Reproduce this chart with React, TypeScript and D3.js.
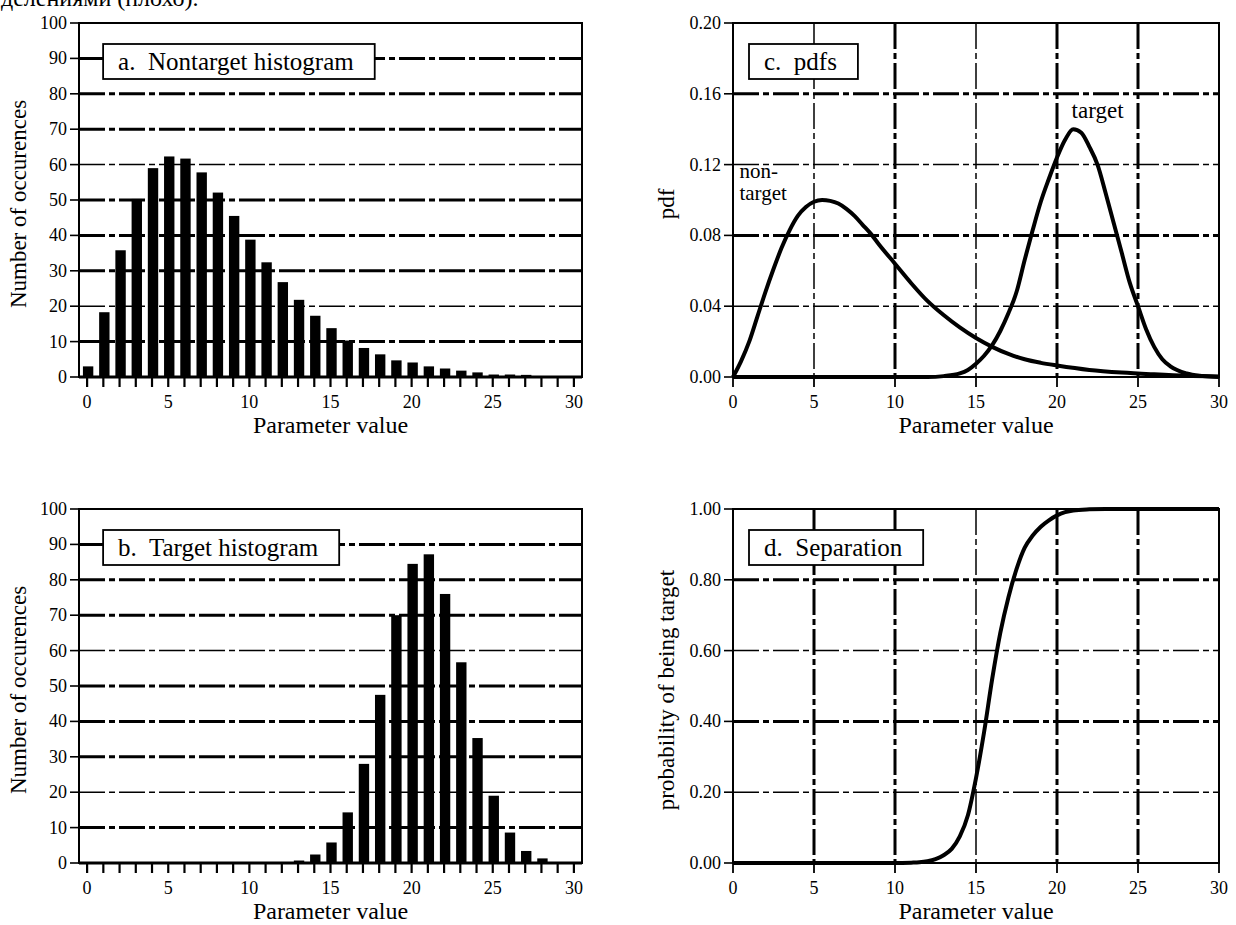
import React, { useEffect, useRef } from 'react';
import * as d3 from 'd3';

const FONT = "'Liberation Serif', 'DejaVu Serif', serif";

// cut off caption line from the page above the figure
const topCaption = 'делениями (плохо).';

// histogram bins (parameter value)
const bins = [0, 1, 2, 3, 4, 5, 6, 7, 8, 9, 10, 11, 12, 13, 14, 15, 16, 17, 18, 19, 20, 21, 22, 23, 24, 25, 26, 27, 28, 29, 30];

// a. Nontarget histogram counts
const nontargetCounts = [3, 18.3, 35.8, 50.3, 59, 62.3, 61.7, 57.8, 52.1, 45.5, 38.8, 32.4, 26.8, 21.8, 17.3, 13.8, 10.3, 8.2, 6.4, 4.7, 4.1, 3, 2.4, 1.8, 1.3, 0.7, 0.7, 0.6, 0, 0, 0];

// b. Target histogram counts
const targetCounts = [0, 0, 0, 0, 0, 0, 0, 0, 0, 0, 0, 0, 0, 0.7, 2.4, 5.8, 14.3, 28, 47.5, 70, 84.5, 87.2, 76, 56.7, 35.3, 19, 8.6, 3.4, 1.3, 0, 0];

// c. pdfs
const nontargetPdfX = [0, 0.5, 1, 1.5, 2, 2.5, 3, 3.5, 4, 4.5, 5, 5.5, 6, 6.5, 7, 7.5, 8, 8.5, 9, 10, 11, 12, 13, 14, 15, 16, 17, 18, 19, 20, 22, 24, 26, 28, 30];
const nontargetPdf = [0, 0.009, 0.02, 0.034, 0.048, 0.061, 0.073, 0.083, 0.091, 0.096, 0.099, 0.1, 0.0995, 0.098, 0.095, 0.091, 0.086, 0.081, 0.075, 0.064, 0.053, 0.043, 0.035, 0.028, 0.022, 0.017, 0.013, 0.01, 0.008, 0.0065, 0.004, 0.0025, 0.0015, 0.0007, 0.0003];

const targetPdfX = [0, 12, 13, 14, 14.5, 15, 15.5, 16, 16.5, 17, 17.5, 18, 18.5, 19, 19.5, 20, 20.5, 21, 21.5, 22, 22.5, 23, 23.5, 24, 24.5, 25, 25.5, 26, 26.5, 27, 28, 29, 30];
const targetPdf = [0, 0, 0.0005, 0.002, 0.004, 0.0075, 0.012, 0.018, 0.026, 0.036, 0.048, 0.066, 0.083, 0.099, 0.112, 0.124, 0.134, 0.14, 0.138, 0.13, 0.12, 0.104, 0.087, 0.07, 0.053, 0.04, 0.027, 0.017, 0.01, 0.006, 0.002, 0.0006, 0];

// d. Separation
const sepX = [0, 10, 11, 11.5, 12, 12.5, 13, 13.5, 14, 14.5, 15, 15.5, 16, 16.5, 17, 17.5, 18, 18.5, 19, 19.5, 20, 20.5, 21, 22, 23, 30];
const sepProb = [0, 0, 0.001, 0.002, 0.005, 0.011, 0.022, 0.04, 0.075, 0.135, 0.24, 0.37, 0.52, 0.65, 0.75, 0.83, 0.89, 0.925, 0.95, 0.968, 0.982, 0.991, 0.996, 0.999, 1, 1];

// tick values
const countTicks = [0, 10, 20, 30, 40, 50, 60, 70, 80, 90, 100];
const pdfTicks = [0, 0.04, 0.08, 0.12, 0.16, 0.2];
const probTicks = [0, 0.2, 0.4, 0.6, 0.8, 1];
const paramLabels = [0, 5, 10, 15, 20, 25, 30];
const paramGrid = [5, 10, 15, 20, 25];

const DASH = '26,4,6,4';

type Panel = {
  kind: 'hist' | 'curve';
  label: string;
  yTitle: string;
  yTitleX: number;
  left: number;
  right: number;
  top: number;
  bottom: number;
  xDomain: [number, number];
  yTicks: number[];
  fmt: (v: number) => string;
  heavyH: number[];
  heavyV: number[];
  counts?: number[];
  curves?: { xs: number[]; ys: number[] }[];
};

const App: React.FC = () => {
  const svgRef = useRef<SVGSVGElement | null>(null);

  useEffect(() => {
    if (!svgRef.current) return;
    const svg = d3.select(svgRef.current);
    svg.selectAll('*').remove();
    svg.attr('font-family', FONT);

    svg.append('text')
      .attr('x', 1)
      .attr('y', 6)
      .attr('font-size', 24)
      .text(topCaption);

    const panels: Panel[] = [
      {
        kind: 'hist', label: 'a.  Nontarget histogram', yTitle: 'Number of occurences', yTitleX: 26,
        left: 79, right: 582, top: 23, bottom: 377, xDomain: [-0.5, 30.5],
        yTicks: countTicks, fmt: d3.format('d'),
        heavyH: [10, 30, 40, 50, 70, 80, 90], heavyV: [], counts: nontargetCounts,
      },
      {
        kind: 'hist', label: 'b.  Target histogram', yTitle: 'Number of occurences', yTitleX: 26,
        left: 79, right: 582, top: 509, bottom: 863, xDomain: [-0.5, 30.5],
        yTicks: countTicks, fmt: d3.format('d'),
        heavyH: [10, 30, 40, 50, 70, 80, 90], heavyV: [], counts: targetCounts,
      },
      {
        kind: 'curve', label: 'c.  pdfs', yTitle: 'pdf', yTitleX: 674,
        left: 733, right: 1219, top: 23, bottom: 377, xDomain: [0, 30],
        yTicks: pdfTicks, fmt: d3.format('.2f'),
        heavyH: [0.08, 0.16], heavyV: [10, 20, 25],
        curves: [{ xs: nontargetPdfX, ys: nontargetPdf }, { xs: targetPdfX, ys: targetPdf }],
      },
      {
        kind: 'curve', label: 'd.  Separation', yTitle: 'probability of being target', yTitleX: 674,
        left: 733, right: 1219, top: 509, bottom: 863, xDomain: [0, 30],
        yTicks: probTicks, fmt: d3.format('.2f'),
        heavyH: [0.4, 0.8], heavyV: [5, 10, 20, 25],
        curves: [{ xs: sepX, ys: sepProb }],
      },
    ];

    panels.forEach((p, pi) => {
      const g = svg.append('g');
      const yMax = p.yTicks[p.yTicks.length - 1];
      const x = d3.scaleLinear().domain(p.xDomain).range([p.left, p.right]);
      const y = d3.scaleLinear().domain([0, yMax]).range([p.bottom, p.top]);

      // horizontal dash-dot grid
      g.selectAll('line.hgrid')
        .data(p.yTicks.slice(1, -1))
        .enter().append('line')
        .attr('x1', p.left).attr('x2', p.right)
        .attr('y1', d => y(d)).attr('y2', d => y(d))
        .attr('stroke', '#000')
        .attr('stroke-width', d => (p.heavyH.some(h => Math.abs(h - d) < 1e-9) ? 3 : 1.5))
        .attr('stroke-dasharray', DASH);

      if (p.kind === 'curve') {
        g.selectAll('line.vgrid')
          .data(paramGrid)
          .enter().append('line')
          .attr('x1', d => x(d)).attr('x2', d => x(d))
          .attr('y1', p.top).attr('y2', p.bottom)
          .attr('stroke', '#000')
          .attr('stroke-width', d => (p.heavyV.includes(d) ? 3 : 1.5))
          .attr('stroke-dasharray', DASH);
      }

      // frame
      g.append('rect')
        .attr('x', p.left).attr('y', p.top)
        .attr('width', p.right - p.left).attr('height', p.bottom - p.top)
        .attr('fill', 'none').attr('stroke', '#000').attr('stroke-width', 2);

      // y ticks + labels
      g.selectAll('line.ytick')
        .data(p.yTicks)
        .enter().append('line')
        .attr('x1', p.left - 9).attr('x2', p.left)
        .attr('y1', d => y(d)).attr('y2', d => y(d))
        .attr('stroke', '#000').attr('stroke-width', 1.6);
      g.selectAll('text.ylab')
        .data(p.yTicks)
        .enter().append('text')
        .attr('x', p.left - 12)
        .attr('y', d => y(d) + 6)
        .attr('text-anchor', 'end')
        .attr('font-size', 18)
        .text(d => p.fmt(d));

      // x ticks
      const tickVals = p.kind === 'hist' ? bins : paramLabels;
      g.selectAll('line.xtick')
        .data(tickVals)
        .enter().append('line')
        .attr('x1', d => x(d)).attr('x2', d => x(d))
        .attr('y1', p.bottom + 1).attr('y2', p.bottom + 10)
        .attr('stroke', '#000').attr('stroke-width', p.kind === 'hist' ? 2.2 : 1.8);
      g.selectAll('text.xlab')
        .data(paramLabels)
        .enter().append('text')
        .attr('x', d => x(d))
        .attr('y', p.bottom + 31)
        .attr('text-anchor', 'middle')
        .attr('font-size', 18)
        .text(d => d3.format('d')(d));

      // marks
      if (p.kind === 'hist' && p.counts) {
        const barW = x(0.64) - x(0);
        g.selectAll('rect.bar')
          .data(bins.filter((_, i) => p.counts![i] > 0))
          .enter().append('rect')
          .attr('x', d => x(d) - barW / 2 + 1)
          .attr('width', barW)
          .attr('y', d => y(p.counts![d]))
          .attr('height', d => p.bottom - y(p.counts![d]))
          .attr('fill', '#000');
        g.append('line')
          .attr('x1', p.left).attr('x2', p.right)
          .attr('y1', p.bottom).attr('y2', p.bottom)
          .attr('stroke', '#000').attr('stroke-width', 3);
      }
      if (p.kind === 'curve' && p.curves) {
        const line = d3.line<number>()
          .curve(d3.curveMonotoneX);
        p.curves.forEach(c => {
          line.x((_, i) => x(c.xs[i])).y(d => y(d));
          g.append('path')
            .datum(c.ys)
            .attr('fill', 'none')
            .attr('stroke', '#000')
            .attr('stroke-width', 4)
            .attr('stroke-linejoin', 'round')
            .attr('d', line);
        });
      }

      // curve labels for the pdf panel
      if (pi === 2) {
        g.append('text')
          .attr('x', x(0.4)).attr('y', y(0.1125))
          .attr('font-size', 21)
          .text('non-');
        g.append('text')
          .attr('x', x(0.4)).attr('y', y(0.1))
          .attr('font-size', 21)
          .text('target');
        g.append('text')
          .attr('x', x(20.9)).attr('y', y(0.1463))
          .attr('font-size', 23)
          .text('target');
      }

      // title box
      const bx = x(0) + 16;
      const by = p.top + 21;
      const boxRect = g.append('rect')
        .attr('x', bx).attr('y', by).attr('height', 35)
        .attr('fill', '#fff').attr('stroke', '#000').attr('stroke-width', 1.8);
      const t = g.append('text')
        .attr('x', bx + 15).attr('y', by + 26)
        .attr('font-size', 25)
        .style('white-space', 'pre')
        .text(p.label);
      const tw = (t.node() as SVGTextElement).getComputedTextLength();
      boxRect.attr('width', tw + 36);

      // axis titles
      g.append('text')
        .attr('x', (x(0) + x(30)) / 2)
        .attr('y', p.bottom + 56)
        .attr('text-anchor', 'middle')
        .attr('font-size', 24)
        .text('Parameter value');
      g.append('text')
        .attr('transform', `translate(${p.yTitleX},${(p.top + p.bottom) / 2 + 4}) rotate(-90)`)
        .attr('text-anchor', 'middle')
        .attr('font-size', 23)
        .text(p.yTitle);
    });
  }, []);

  return (
    <div style={{ position: 'absolute', left: 0, top: 0, background: '#fff' }}>
      <svg ref={svgRef} width={1236} height={925}></svg>
    </div>
  );
};

export default App;
